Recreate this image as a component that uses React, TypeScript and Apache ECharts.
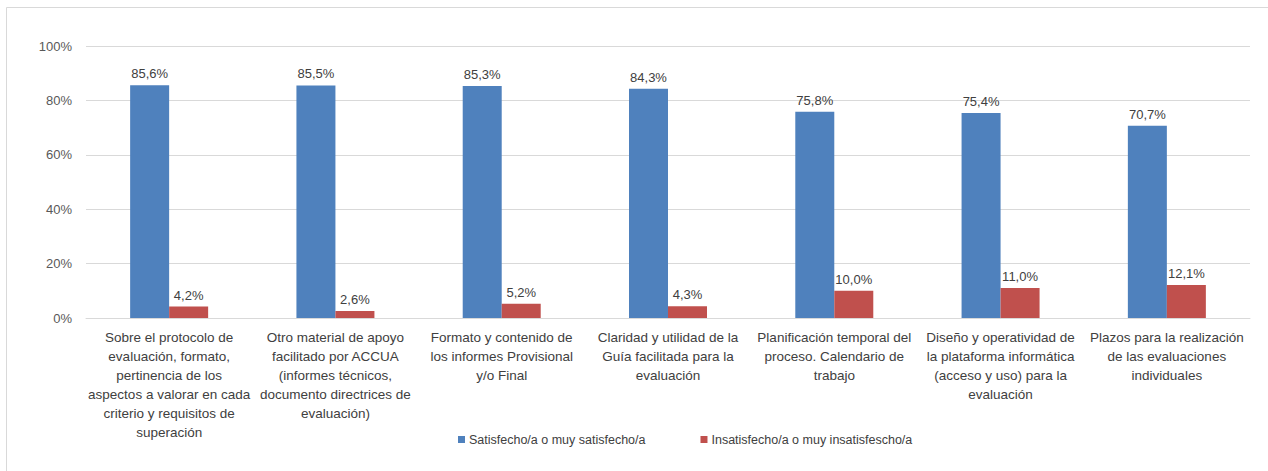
import React, { useEffect, useRef } from "react";
import * as echarts from "echarts";

const categories = [
  "Sobre el protocolo de\nevaluación, formato,\npertinencia de los\naspectos a valorar en cada\ncriterio y requisitos de\nsuperación",
  "Otro material de apoyo\nfacilitado por ACCUA\n(informes técnicos,\ndocumento directrices de\nevaluación)",
  "Formato y contenido de\nlos informes Provisional\ny/o Final",
  "Claridad y utilidad de la\nGuía facilitada para la\nevaluación",
  "Planificación temporal del\nproceso. Calendario de\ntrabajo",
  "Diseño y operatividad de\nla plataforma informática\n(acceso y uso) para la\nevaluación",
  "Plazos para la realización\nde las evaluaciones\nindividuales",
];
const satisfied = [85.6, 85.5, 85.3, 84.3, 75.8, 75.4, 70.7];
const dissatisfied = [4.2, 2.6, 5.2, 4.3, 10.0, 11.0, 12.1];
const seriesNames = ["Satisfecho/a o muy satisfecho/a", "Insatisfecho/a o muy insatisfescho/a"];

const FONT = "'Liberation Sans', Arial, sans-serif";
const fmt = (v: number) => v.toFixed(1).replace(".", ",") + "%";

export default function App() {
  const ref = useRef<HTMLDivElement>(null);
  useEffect(() => {
    if (!ref.current) return;
    const chart = echarts.init(ref.current, undefined, { renderer: "svg" });
    chart.setOption({
      animation: false,
      backgroundColor: "#ffffff",
      textStyle: { fontFamily: FONT },
      grid: { left: 86, right: 18, top: 46, bottom: 153, containLabel: false },
      legend: {
        left: 453,
        top: 428,
        itemWidth: 7,
        itemHeight: 7,
        itemGap: 55,
        icon: "rect",
        textStyle: { fontFamily: FONT, fontSize: 12.5, color: "#404040", padding: [0, 0, 0, -1] },
        data: seriesNames,
      },
      graphic: [
        { type: "line", shape: { x1: 6.5, y1: 7.5, x2: 1268, y2: 7.5 }, style: { stroke: "#d9d9d9", lineWidth: 1 } },
        { type: "line", shape: { x1: 6.5, y1: 7.5, x2: 6.5, y2: 471 }, style: { stroke: "#d9d9d9", lineWidth: 1 } },
      ],
      xAxis: {
        type: "category",
        data: categories,
        axisLine: { lineStyle: { color: "#d9d9d9" } },
        axisTick: { show: false },
        axisLabel: {
          interval: 0,
          margin: 10,
          fontFamily: FONT,
          fontSize: 13.5,
          lineHeight: 19,
          color: "#404040",
          align: "center",
        },
      },
      yAxis: {
        type: "value",
        min: 0,
        max: 100,
        interval: 20,
        axisLine: { show: false },
        axisTick: { show: false },
        splitLine: { lineStyle: { color: "#d9d9d9" } },
        axisLabel: { formatter: "{value}%", margin: 14, fontFamily: FONT, fontSize: 13, color: "#595959" },
      },
      series: [
        {
          name: seriesNames[0],
          type: "bar",
          data: satisfied,
          barWidth: 39,
          barGap: "0%",
          itemStyle: { color: "#4F81BD" },
          label: { show: true, position: "top", distance: 5, formatter: (p: any) => fmt(p.value), fontFamily: FONT, fontSize: 13, color: "#404040" },
        },
        {
          name: seriesNames[1],
          type: "bar",
          data: dissatisfied,
          barWidth: 39,
          barGap: "0%",
          itemStyle: { color: "#C0504D" },
          label: { show: true, position: "top", distance: 5, formatter: (p: any) => fmt(p.value), fontFamily: FONT, fontSize: 13, color: "#404040" },
        },
      ],
    });
    return () => chart.dispose();
  }, []);
  return <div ref={ref} style={{ position: "absolute", left: 0, top: 0, width: 1268, height: 471 }} />;
}
